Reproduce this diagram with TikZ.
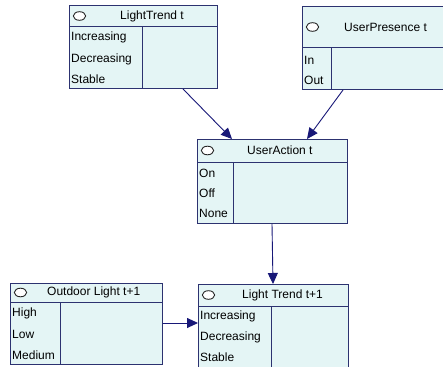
\documentclass[tikz,border=0pt]{standalone}
\usepackage{fontspec}
\setmainfont{Liberation Sans}
\usetikzlibrary{arrows.meta,calc}

\definecolor{cptfill}{RGB}{228,245,245}
\definecolor{cptedge}{RGB}{44,50,112}
\definecolor{linkcol}{RGB}{24,24,120}

\tikzset{
  cptbox/.style={draw=cptedge, fill=cptfill, line width=1pt, rectangle, inner sep=0pt},
  cptline/.style={draw=cptedge, line width=1pt},
  cptmark/.style={draw=black!85, line width=0.9pt, fill=white},
  cpttitle/.style={anchor=west, inner sep=0pt, font=\fontsize{12}{14}\selectfont},
  cptstate/.style={anchor=west, inner sep=0pt, font=\fontsize{12}{14}\selectfont},
  link/.style={draw=linkcol, line width=0.9pt, -{Triangle[length=11pt,width=10pt]}}
}

% #1 name, #2 x, #3 y, #4 width, #5 height, #6 header height,
% #7 column divider offset, #8 title offset, #9 title
\newcommand\cptnode[9]{%
  \node[cptbox, minimum width=#4pt, minimum height=#5pt, anchor=north west] (#1) at (#2,#3) {};
  \draw[cptline] ([yshift=-#6pt]#1.north west) -- ([yshift=-#6pt]#1.north east);
  \draw[cptline] ([shift={(#7pt,-#6pt)}]#1.north west) -- ([xshift=#7pt]#1.south west);
  \draw[cptmark] ([shift={(10.5pt,-#6pt/2)}]#1.north west) ellipse (6.2pt and 4.3pt);
  \node[cpttitle] (#1-t) at ([shift={(#8pt,-#6pt/2)}]#1.north west) {#9};
}
% state label: #1 box, #2 label name, #3 offset from top, #4 text
\newcommand\cptstate[4]{%
  \node[cptstate] (#1-#2) at ([shift={(2pt,-#3pt)}]#1.north west) {#4};
}

\begin{document}
\begin{tikzpicture}[x=1pt,y=-1pt]
\clip (0,0) rectangle (443,366);
\fill[white] (0,0) rectangle (443,366);

% LightTrend t
\cptnode{lt}{69}{5}{148}{83}{22}{73}{51}{LightTrend t}
\cptstate{lt}{a}{32}{Increasing}
\cptstate{lt}{b}{54}{Decreasing}
\cptstate{lt}{c}{74}{Stable}

% UserPresence t
\cptnode{up}{302}{6}{160}{83}{42}{29}{42}{UserPresence t}
\cptstate{up}{a}{54}{In}
\cptstate{up}{b}{74}{Out}

% UserAction t
\cptnode{ua}{197}{139}{150}{84}{23}{36}{50}{UserAction t}
\cptstate{ua}{a}{34}{On}
\cptstate{ua}{b}{54}{Off}
\cptstate{ua}{c}{74}{None}

% Outdoor Light t+1
\cptnode{ol}{10}{283}{152}{81}{19}{50}{37}{Outdoor Light t+1}
\cptstate{ol}{a}{30}{High}
\cptstate{ol}{b}{51}{Low}
\cptstate{ol}{c}{72}{Medium}

% Light Trend t+1
\cptnode{lq}{198}{284}{150}{100}{22}{73}{44}{Light Trend t+1}
\cptstate{lq}{a}{32}{Increasing}
\cptstate{lq}{b}{53}{Decreasing}
\cptstate{lq}{c}{73}{Stable}

% dependencies
\draw[link] ([xshift=114pt]lt.south west) -- ([xshift=35pt]ua.north west);
\draw[link] ([xshift=41pt]up.south west) -- ([xshift=110pt]ua.north west);
\draw[link] ([xshift=75pt]ua.south west) -- ([xshift=75pt]lq.north west);
\draw[link] ([yshift=-40pt]ol.north east) -- ([yshift=-39pt]lq.north west);
\end{tikzpicture}
\end{document}
